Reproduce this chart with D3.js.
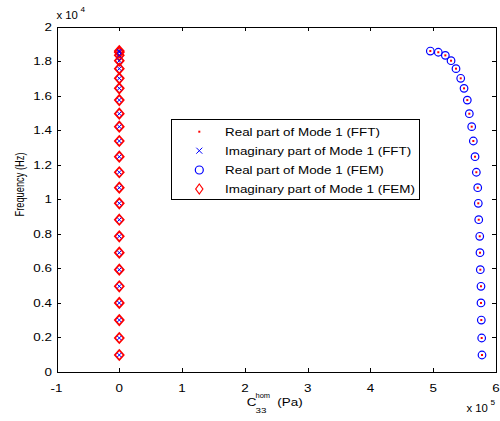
<!DOCTYPE html>
<html><head><meta charset="utf-8">
<script src="https://cdn.jsdelivr.net/npm/d3@7"></script>
<style>
html,body{margin:0;padding:0;background:#fff;}
text{font-family:"Liberation Sans",Arial,sans-serif;fill:#000;}
</style></head>
<body><div id="chart"></div>
<script>
// ---- data ----
const frequencies = [985, 1970, 3010, 4000, 4965, 5925, 6910, 7860, 8820, 9770, 10675, 11570, 12470, 13380, 14210, 14960, 15750, 16430, 17010, 17570, 18030, 18340, 18520, 18590];
const realFFT = [5.777, 5.772, 5.766, 5.761, 5.761, 5.750, 5.745, 5.741, 5.725, 5.718, 5.709, 5.687, 5.666, 5.639, 5.613, 5.575, 5.543, 5.491, 5.438, 5.363, 5.284, 5.193, 5.081, 4.954].map(v => v * 1e5);
const imagFFT = frequencies.map(() => 0);
const realFEM = realFFT.slice();
const imagFEM = frequencies.map(() => 0);
const xTicks = [-1, 0, 1, 2, 3, 4, 5, 6];
const xTickLabels = ["-1", "0", "1", "2", "3", "4", "5", "6"];
const yTicks = [0, 0.2, 0.4, 0.6, 0.8, 1, 1.2, 1.4, 1.6, 1.8, 2];
const yTickLabels = ["0", "0.2", "0.4", "0.6", "0.8", "1", "1.2", "1.4", "1.6", "1.8", "2"];
const legendLabels = ["Real part of Mode 1 (FFT)", "Imaginary part of Mode 1 (FFT)", "Real part of Mode 1 (FEM)", "Imaginary part of Mode 1 (FEM)"];

// ---- layout ----
const W = 500, H = 421;
const L = 56.5, R = 496, T = 26.7, B = 372;
const SX = 1.22; // horizontal text stretch
const FS = 11;
const red = "#ff0000", blue = "#0000ff";

const svg = d3.select("#chart").append("svg").attr("width", W).attr("height", H);
svg.append("rect").attr("width", W).attr("height", H).attr("fill", "#fff");

const x = d3.scaleLinear().domain([-1e5, 6e5]).range([L, R]);
const y = d3.scaleLinear().domain([0, 2e4]).range([B, T]);

function txt(px, py, s, size, anchor, sx) {
  return svg.append("text")
    .attr("transform", `translate(${px},${py}) scale(${sx || SX},1)`)
    .attr("font-size", size).attr("text-anchor", anchor || "start").text(s);
}

// ---- axes box and ticks ----
const TL = 4.5;
const gAx = svg.append("g").attr("stroke", "#000").attr("stroke-width", 1).attr("shape-rendering", "crispEdges");
xTicks.forEach(t => {
  const px = Math.round(x(t * 1e5)) + 0.5;
  gAx.append("line").attr("x1", px).attr("x2", px).attr("y1", B).attr("y2", B - TL);
  gAx.append("line").attr("x1", px).attr("x2", px).attr("y1", T).attr("y2", T + TL);
});
yTicks.forEach(t => {
  const py = Math.round(y(t * 1e4)) + 0.5;
  gAx.append("line").attr("x1", L).attr("x2", L + TL).attr("y1", py).attr("y2", py);
  gAx.append("line").attr("x1", R).attr("x2", R - TL).attr("y1", py).attr("y2", py);
});
gAx.append("rect").attr("x", Math.round(L) + 0.5).attr("y", Math.round(T) + 0.5)
  .attr("width", Math.round(R) - Math.round(L)).attr("height", Math.round(B) - Math.round(T))
  .attr("fill", "none");

xTicks.forEach((t, i) => txt(x(t * 1e5), B + 20, xTickLabels[i], FS, "middle"));
yTicks.forEach((t, i) => txt(L - 4.5, y(t * 1e4) + 4, yTickLabels[i], FS, "end"));

// exponent labels
txt(L, T - 8, "x 10", 10.5, "start", 1.08);
txt(L + 24, T - 15, "4", 7.5, "start", 1.1);
txt(R - 29.5, B + 40, "x 10", 10.5, "start", 1.08);
txt(R - 5.5, B + 33, "5", 7.5, "start", 1.1);

// axis labels
txt(246.7, 406, "C", FS, "start");
txt(255.5, 413, "33", 8, "start");
txt(255.5, 397.5, "hom", 7.5, "start", 1.0);
txt(277.3, 406, "(Pa)", FS, "start");
svg.append("text").attr("transform", `translate(23.5,184.5) scale(${SX},1) rotate(-90)`)
  .attr("font-size", 10).attr("text-anchor", "middle")
  .attr("textLength", 64).attr("lengthAdjust", "spacingAndGlyphs").text("Frequency (Hz)");

// ---- markers ----
const plot = svg.append("g");
function diamond(g, cx, cy, w, h, sw) {
  g.append("path").attr("d", `M${cx},${cy - h}L${cx + w},${cy}L${cx},${cy + h}L${cx - w},${cy}Z`)
    .attr("fill", "none").attr("stroke", red).attr("stroke-width", sw);
}
function cross(g, cx, cy, s, sw) {
  g.append("path").attr("d", `M${cx - s},${cy - s}L${cx + s},${cy + s}M${cx - s},${cy + s}L${cx + s},${cy - s}`)
    .attr("stroke", blue).attr("stroke-width", sw).attr("fill", "none");
}
function circ(g, cx, cy, r, sw) {
  g.append("circle").attr("cx", cx).attr("cy", cy).attr("r", r)
    .attr("fill", "none").attr("stroke", blue).attr("stroke-width", sw);
}
function dot(g, cx, cy) {
  g.append("rect").attr("x", cx - 1).attr("y", cy - 1).attr("width", 2).attr("height", 2).attr("fill", red);
}

// Imag FEM (diamonds)
frequencies.forEach((f, i) => diamond(plot, x(imagFEM[i]), y(f), 4.4, 5, 1.8));
// Imag FFT (crosses)
frequencies.forEach((f, i) => cross(plot, x(imagFFT[i]), y(f), 2, 1));
// Real FEM (circles)
frequencies.forEach((f, i) => circ(plot, x(realFEM[i]), y(f), 3.8, 1.2));
// Real FFT (dots)
frequencies.forEach((f, i) => dot(plot, x(realFFT[i]), y(f)));

// ---- legend ----
const lg = svg.append("g");
lg.append("rect").attr("x", 171.5).attr("y", 119.5).attr("width", 248).attr("height", 80)
  .attr("fill", "#fff").attr("stroke", "#000").attr("stroke-width", 1).attr("shape-rendering", "crispEdges");
const rowY = [131.7, 150.7, 170, 189];
const mx = 199.3;
dot(lg, mx, rowY[0]);
cross(lg, mx, rowY[1], 3, 1);
circ(lg, mx, rowY[2], 4, 1.2);
diamond(lg, mx, rowY[3], 3.6, 5, 1.2);
legendLabels.forEach((s, i) => txt(225, rowY[i] + 4, s, FS, "start"));
</script></body></html>
